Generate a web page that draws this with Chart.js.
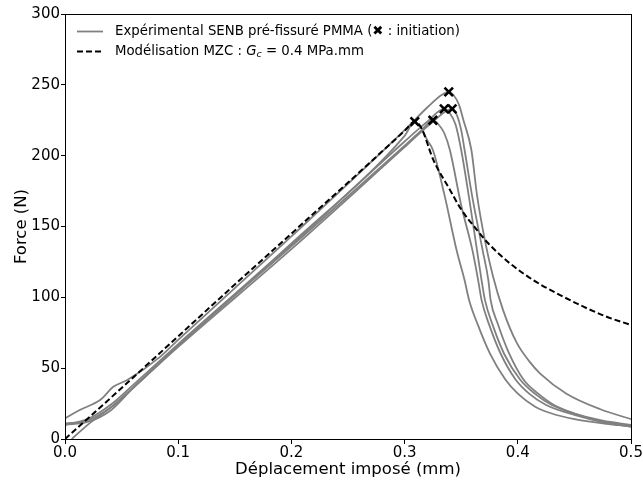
<!DOCTYPE html>
<html>
<head>
<meta charset="utf-8">
<script src="https://cdn.jsdelivr.net/npm/chart.js@4"></script>
<style>
  body { margin: 0; background: #fff; }
</style>
</head>
<body>
<canvas id="myChart" width="643" height="482"></canvas>
<script>
// experimental curves (SENB PMMA), displacement in mm / force in N
var exp1X = [0, 0.02, 0.04, 0.06, 0.1, 0.2, 0.3, 0.309, 0.315, 0.32, 0.325, 0.335, 0.346, 0.353, 0.357, 0.365, 0.375, 0.389, 0.4, 0.415, 0.43, 0.45, 0.475, 0.5];
var exp1Y = [10, 14, 24, 38, 67, 138, 214, 224, 219, 211, 204, 173, 133, 112, 98, 80, 61, 42, 32, 23, 18, 14, 11, 9];

var exp2X = [0, 0.02, 0.04, 0.06, 0.1, 0.2, 0.3, 0.315, 0.325, 0.33, 0.335, 0.34, 0.35, 0.36, 0.365, 0.368, 0.375, 0.385, 0.398, 0.41, 0.425, 0.45, 0.475, 0.5];
var exp2Y = [11, 13, 22, 36, 66, 136, 207, 218, 225, 222, 216, 204, 165, 133, 112, 98, 80, 60, 42, 32, 24, 17, 12, 9];

var exp3X = [0, 0.02, 0.04, 0.06, 0.1, 0.2, 0.3, 0.32, 0.335, 0.34, 0.345, 0.35, 0.357, 0.364, 0.368, 0.371, 0.378, 0.388, 0.402, 0.415, 0.43, 0.45, 0.475, 0.5];
var exp3Y = [10, 12, 20, 36, 66, 137, 210, 224, 233, 230, 222, 204, 170, 133, 112, 98, 80, 60, 42, 32, 24, 18, 13, 10];

var exp4X = [0.006, 0.02, 0.04, 0.06, 0.1, 0.2, 0.3, 0.325, 0.342, 0.346, 0.35, 0.353, 0.36, 0.369, 0.374, 0.376, 0.382, 0.392, 0.405, 0.418, 0.432, 0.45, 0.475, 0.5];
var exp4Y = [0, 10, 22, 36, 65, 134, 206, 224, 233, 229, 218, 204, 170, 133, 112, 98, 82, 61, 42, 32, 24, 18, 12, 8.5];

var exp5X = [0, 0.013, 0.031, 0.043, 0.055, 0.084, 0.1, 0.2, 0.3, 0.32, 0.333, 0.339, 0.343, 0.348, 0.352, 0.359, 0.364, 0.371, 0.378, 0.387, 0.399, 0.41, 0.42, 0.443, 0.473, 0.5];
var exp5Y = [14.5, 20.5, 27.5, 37, 41.6, 58, 70, 143, 218, 234, 243, 245, 243, 236, 225, 204, 172, 140, 115, 91, 68, 55, 46, 32, 21, 14];

// crack initiation points
var initX = [0.309, 0.325, 0.335, 0.342, 0.339];
var initY = [224, 225, 233, 233, 245];

// MZC model, Gc = 0.4 MPa.mm
var mzcX = [0, 0.05, 0.1, 0.15, 0.2, 0.25, 0.3, 0.309, 0.3145, 0.3254, 0.34, 0.35, 0.364, 0.374, 0.393, 0.414, 0.434, 0.458, 0.4785, 0.5];
var mzcY = [0, 36, 72.5, 109, 145, 181, 217.5, 224, 220, 197, 176, 162, 147.5, 138, 124, 112, 103, 93.4, 86.3, 80.5];

var xTicks = [0, 0.1, 0.2, 0.3, 0.4, 0.5];
var yTicks = [0, 50, 100, 150, 200, 250, 300];

function zip(xs, ys) {
    return xs.map(function (x, i) { return { x: x, y: ys[i] }; });
}

var font = 'DejaVu Sans';

function grayCurve(xs, ys) {
    return {
        data: zip(xs, ys),
        borderColor: '#808080',
        borderWidth: 1.8,
        pointRadius: 0,
        fill: false,
        cubicInterpolationMode: 'monotone',
        order: 3
    };
}

// frame + legend drawn on top
var decorPlugin = {
    id: 'decor',
    afterDraw: function (chart) {
        var c = chart.ctx, a = chart.chartArea;
        c.save();
        c.strokeStyle = '#000';
        c.lineWidth = 1;
        c.strokeRect(a.left + 0.5, a.top + 0.5, a.right - a.left, a.bottom - a.top);

        c.textBaseline = 'middle';
        c.font = '13.3px ' + font;
        c.fillStyle = '#000';
        // row 1
        c.beginPath();
        c.strokeStyle = '#808080';
        c.lineWidth = 1.8;
        c.moveTo(77, 31.5); c.lineTo(103, 31.5);
        c.stroke();
        c.fillText('Expérimental SENB pré-fissuré PMMA (✖ : initiation)', 115, 31.5);
        // row 2
        c.beginPath();
        c.strokeStyle = '#000';
        c.lineWidth = 2;
        c.setLineDash([6, 3]);
        c.moveTo(77, 51.5); c.lineTo(103, 51.5);
        c.stroke();
        c.setLineDash([]);
        var x = 115;
        var t1 = 'Modélisation MZC : ';
        c.fillText(t1, x, 51.5);
        x += c.measureText(t1).width;
        c.font = 'italic 13.3px ' + font;
        c.fillText('G', x, 51.5);
        x += c.measureText('G').width;
        c.font = 'italic 9.5px ' + font;
        c.fillText('c', x, 55);
        x += c.measureText('c').width;
        c.font = '13.3px ' + font;
        c.fillText(' = 0.4 MPa.mm', x, 51.5);
        c.restore();
    }
};

var ctx = document.getElementById('myChart').getContext('2d');
var myChart = new Chart(ctx, {
    type: 'line',
    data: {
        datasets: [
            grayCurve(exp1X, exp1Y),
            grayCurve(exp2X, exp2Y),
            grayCurve(exp3X, exp3Y),
            grayCurve(exp4X, exp4Y),
            grayCurve(exp5X, exp5Y),
            {
                data: zip(mzcX, mzcY),
                borderColor: '#000',
                borderWidth: 2,
                borderDash: [6, 3],
                pointRadius: 0,
                fill: false,
                cubicInterpolationMode: 'monotone',
                order: 2
            },
            {
                type: 'scatter',
                data: zip(initX, initY),
                pointStyle: 'crossRot',
                pointRadius: 6,
                borderColor: '#000',
                borderWidth: 2.6,
                order: 1
            }
        ]
    },
    options: {
        responsive: false,
        animation: false,
        layout: { padding: { top: 14, right: 12, left: 10, bottom: 0 } },
        plugins: {
            legend: { display: false },
            tooltip: { enabled: false }
        },
        scales: {
            x: {
                type: 'linear',
                min: 0,
                max: 0.5,
                afterFit: function (s) { s.height = 43; },
                afterBuildTicks: function (s) { s.ticks = xTicks.map(function (v) { return { value: v }; }); },
                ticks: {
                    color: '#000',
                    font: { family: font, size: 15 },
                    padding: 0,
                    maxRotation: 0,
                    callback: function (v) { return v.toFixed(1); }
                },
                grid: { drawOnChartArea: false, color: '#000', tickLength: 5 },
                border: { color: '#000' },
                title: {
                    display: true,
                    text: 'Déplacement imposé (mm)',
                    color: '#000',
                    font: { family: font, size: 16.5 },
                    padding: { top: 0, bottom: 2 }
                }
            },
            y: {
                type: 'linear',
                min: 0,
                max: 300,
                afterFit: function (s) { s.width = 55; },
                afterBuildTicks: function (s) { s.ticks = yTicks.map(function (v) { return { value: v }; }); },
                ticks: {
                    color: '#000',
                    font: { family: font, size: 15 },
                    padding: 1
                },
                grid: { drawOnChartArea: false, color: '#000', tickLength: 4 },
                border: { color: '#000' },
                title: {
                    display: true,
                    text: 'Force (N)',
                    color: '#000',
                    font: { family: font, size: 16.5 },
                    padding: { top: 2, bottom: 0 }
                }
            }
        }
    },
    plugins: [decorPlugin]
});
</script>
</body>
</html>
